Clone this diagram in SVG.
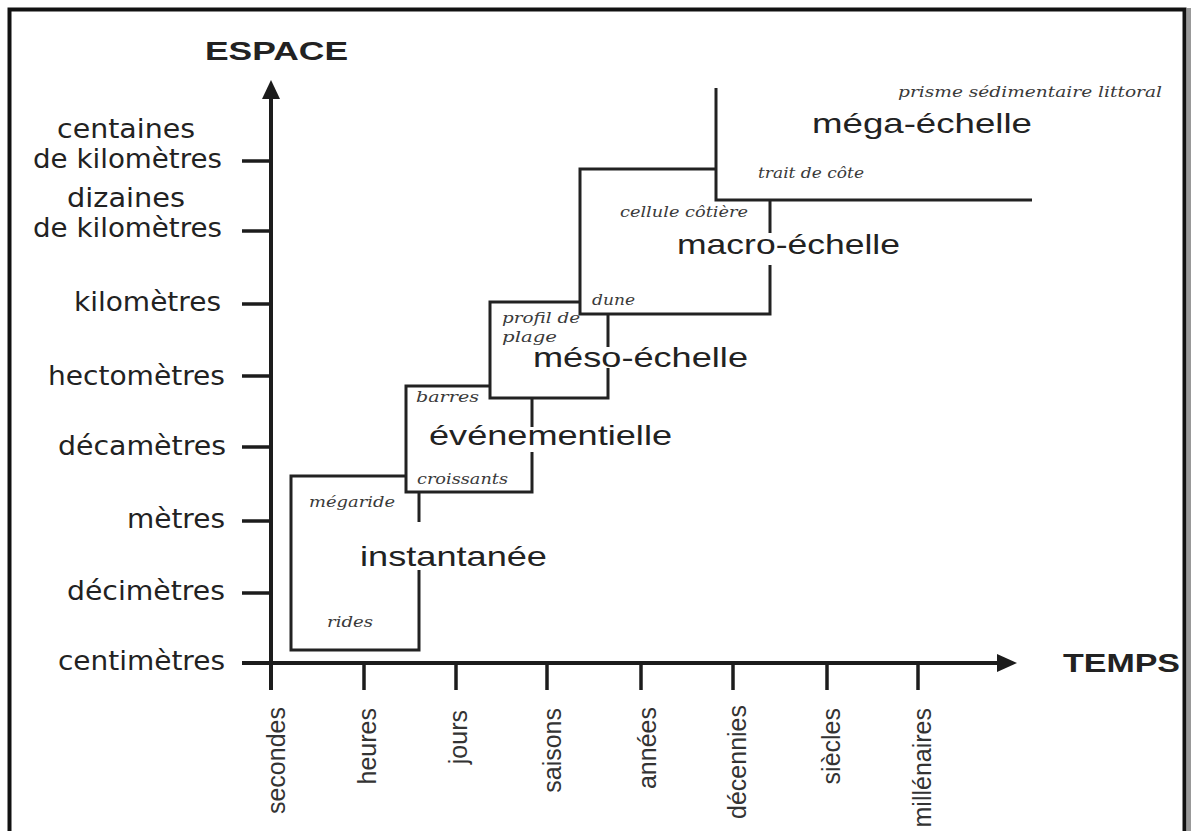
<svg xmlns="http://www.w3.org/2000/svg" width="1193" height="831" viewBox="0 0 1193 831">
<style>
.ax{stroke:#1c1c1c;stroke-width:4;fill:none}
.tk{stroke:#1c1c1c;stroke-width:3.5}
.bx{stroke:#222;stroke-width:3;fill:none}
.yl{font-family:"DejaVu Sans",sans-serif;font-size:26px;fill:#222}
.xl{font-family:"Liberation Sans",Arial,sans-serif;font-size:25px;fill:#333}
.sc{font-family:"Liberation Sans",Arial,sans-serif;font-size:28px;fill:#222}
.it{font-family:"DejaVu Serif","Liberation Serif",serif;font-style:italic;font-size:15px;fill:#3a3a3a}
.ti{font-family:"Liberation Sans",Arial,sans-serif;font-weight:bold;font-size:25px;fill:#222}
</style>
<rect width="1193" height="831" fill="#fff"/>
<line x1="1189" y1="8" x2="1189" y2="831" stroke="#999" stroke-width="4"/>
<rect x="9.5" y="9.5" width="1175" height="840" fill="none" stroke="#111" stroke-width="4"/>

<g id="axes">
  <line class="ax" x1="271" y1="95" x2="271" y2="690"/>
  <polygon points="271,80 262,99 280,99" fill="#1c1c1c"/>
  <line class="ax" x1="242" y1="663" x2="1000" y2="663" stroke-width="3.5"/>
  <polygon points="1017,663 997,654 997,672" fill="#1c1c1c"/>
  <text class="ti" x="205" y="60" textLength="143" lengthAdjust="spacingAndGlyphs">ESPACE</text>
  <text class="ti" x="1063" y="672" textLength="117" lengthAdjust="spacingAndGlyphs">TEMPS</text>
</g>

<g id="y-ticks">
  <line class="tk" x1="242" y1="161" x2="271" y2="161" stroke-width="2.5"/>
  <line class="tk" x1="242" y1="231" x2="271" y2="231"/>
  <line class="tk" x1="242" y1="304" x2="271" y2="304" stroke-width="2.5"/>
  <line class="tk" x1="242" y1="376" x2="271" y2="376" stroke-width="4"/>
  <line class="tk" x1="242" y1="447" x2="271" y2="447" stroke-width="2.5"/>
  <line class="tk" x1="242" y1="521" x2="271" y2="521" stroke-width="2"/>
  <line class="tk" x1="242" y1="593" x2="271" y2="593" stroke-width="4"/>
  <text class="yl" x="57" y="138" textLength="138" lengthAdjust="spacingAndGlyphs">centaines</text>
  <text class="yl" x="33" y="168" textLength="189" lengthAdjust="spacingAndGlyphs">de kilomètres</text>
  <text class="yl" x="67" y="207" textLength="118" lengthAdjust="spacingAndGlyphs">dizaines</text>
  <text class="yl" x="33" y="237" textLength="189" lengthAdjust="spacingAndGlyphs">de kilomètres</text>
  <text class="yl" x="74" y="311" textLength="147" lengthAdjust="spacingAndGlyphs">kilomètres</text>
  <text class="yl" x="48" y="385" textLength="177" lengthAdjust="spacingAndGlyphs">hectomètres</text>
  <text class="yl" x="58" y="455" textLength="168" lengthAdjust="spacingAndGlyphs">décamètres</text>
  <text class="yl" x="127" y="528" textLength="98" lengthAdjust="spacingAndGlyphs">mètres</text>
  <text class="yl" x="67" y="600" textLength="158" lengthAdjust="spacingAndGlyphs">décimètres</text>
  <text class="yl" x="58" y="670" textLength="167" lengthAdjust="spacingAndGlyphs">centimètres</text>
</g>

<g id="x-ticks">
  <line class="tk" x1="364" y1="663" x2="364" y2="690"/>
  <line class="tk" x1="456" y1="663" x2="456" y2="690"/>
  <line class="tk" x1="547" y1="663" x2="547" y2="690"/>
  <line class="tk" x1="641" y1="663" x2="641" y2="690"/>
  <line class="tk" x1="733" y1="663" x2="733" y2="690"/>
  <line class="tk" x1="827" y1="663" x2="827" y2="690"/>
  <line class="tk" x1="918" y1="663" x2="918" y2="690"/>
  <text class="xl" text-anchor="end" transform="translate(285,707) rotate(-90)">secondes</text>
  <text class="xl" text-anchor="end" transform="translate(376,708) rotate(-90)">heures</text>
  <text class="xl" text-anchor="end" transform="translate(467,710) rotate(-90)">jours</text>
  <text class="xl" text-anchor="end" transform="translate(561,708) rotate(-90)">saisons</text>
  <text class="xl" text-anchor="end" transform="translate(656,707) rotate(-90)">années</text>
  <text class="xl" text-anchor="end" transform="translate(746,705) rotate(-90)">décennies</text>
  <text class="xl" text-anchor="end" transform="translate(840,708) rotate(-90)">siècles</text>
  <text class="xl" text-anchor="end" transform="translate(931,708) rotate(-90)">millénaires</text>
</g>

<g id="connectors">
  <path class="bx" d="M419,492 V522 M419,570 V650 H291 V476 H406"/>
  <path class="bx" d="M490,386 H406 V492 H532 V452 M532,427 V398"/>
  <path class="bx" d="M580,302 H490 V398 H608 V368 M608,347 V315"/>
  <path class="bx" d="M716,169 H580 V314 H770 V265 M770,233 V200"/>
  <path class="bx" d="M716,88 V200 H1032"/>
</g>

<g id="instantanee">
  <text class="sc" x="360" y="566" textLength="187" lengthAdjust="spacingAndGlyphs">instantanée</text>
  <text class="it" x="309" y="507" textLength="86" lengthAdjust="spacingAndGlyphs">mégaride</text>
  <text class="it" x="327" y="627" textLength="46" lengthAdjust="spacingAndGlyphs">rides</text>
</g>
<g id="evenementielle">
  <text class="sc" x="429" y="445" textLength="243" lengthAdjust="spacingAndGlyphs">événementielle</text>
  <text class="it" x="416" y="402" textLength="63" lengthAdjust="spacingAndGlyphs">barres</text>
  <text class="it" x="417" y="484" textLength="91" lengthAdjust="spacingAndGlyphs">croissants</text>
</g>
<g id="meso">
  <text class="sc" x="533" y="367" textLength="215" lengthAdjust="spacingAndGlyphs">méso-échelle</text>
  <text class="it" x="502" y="323" textLength="78" lengthAdjust="spacingAndGlyphs">profil de</text>
  <text class="it" x="502" y="342" textLength="55" lengthAdjust="spacingAndGlyphs">plage</text>
</g>
<g id="macro">
  <text class="sc" x="677" y="254" textLength="223" lengthAdjust="spacingAndGlyphs">macro-échelle</text>
  <text class="it" x="620" y="217" textLength="128" lengthAdjust="spacingAndGlyphs">cellule côtière</text>
  <text class="it" x="592" y="305" textLength="43" lengthAdjust="spacingAndGlyphs">dune</text>
</g>
<g id="mega">
  <text class="sc" x="812" y="133" textLength="220" lengthAdjust="spacingAndGlyphs">méga-échelle</text>
  <text class="it" x="898" y="97" textLength="264" lengthAdjust="spacingAndGlyphs">prisme sédimentaire littoral</text>
  <text class="it" x="758" y="178" textLength="106" lengthAdjust="spacingAndGlyphs">trait de côte</text>
</g>
</svg>
